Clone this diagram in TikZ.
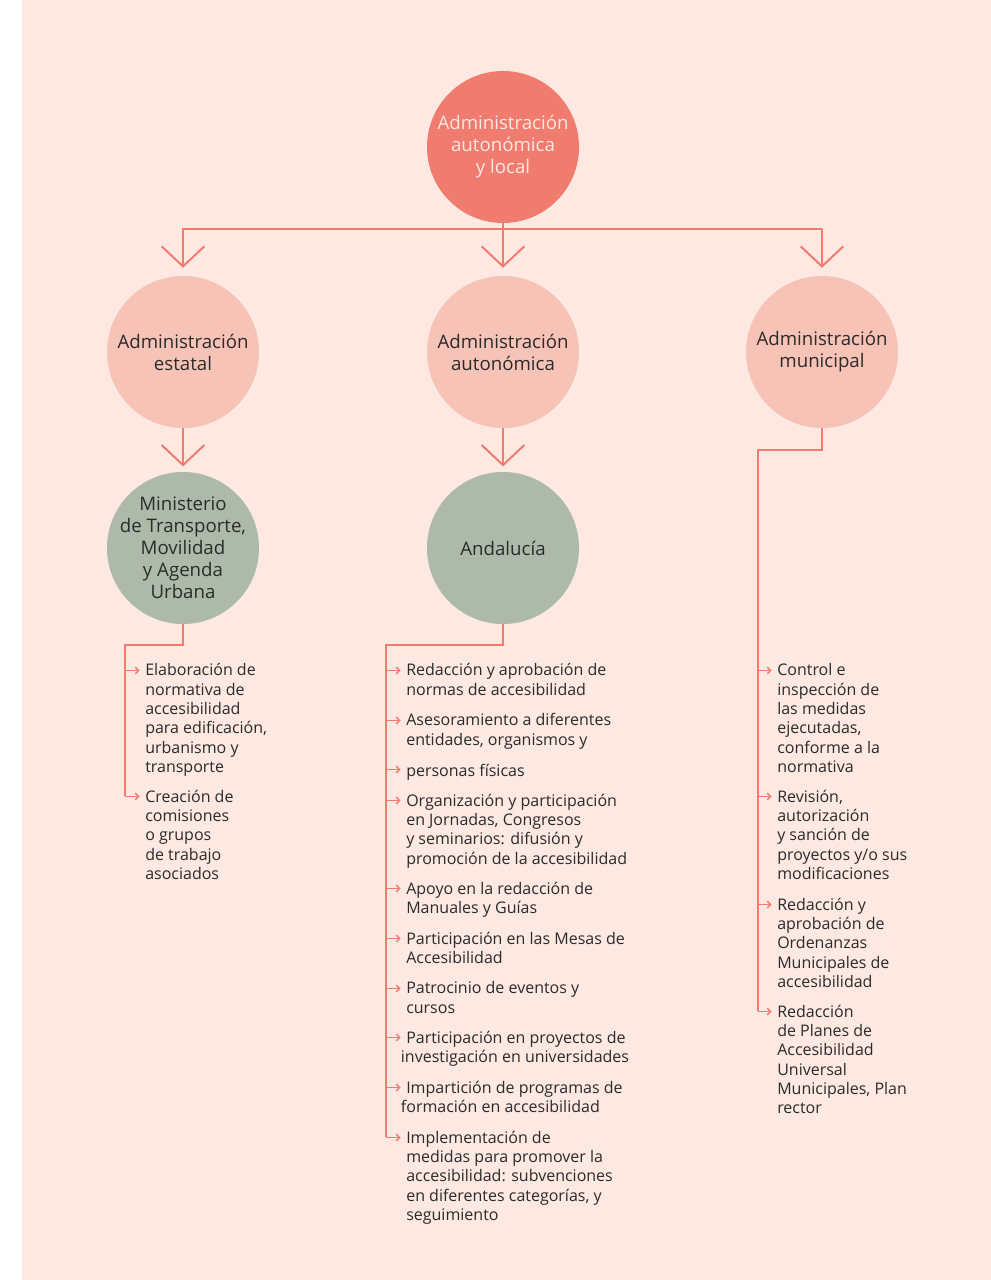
\documentclass[tikz,border=0pt]{standalone}
\usepackage{fontspec}
\setmainfont{Open Sans}
\usetikzlibrary{arrows.meta}

\definecolor{bgpink}{HTML}{FDE8E2}
\definecolor{coral}{HTML}{F07C70}
\definecolor{blush}{HTML}{F7C3B7}
\definecolor{sage}{HTML}{ADB9A9}
\definecolor{ink}{HTML}{2B2B2B}

\tikzset{
  circ/.style={circle,minimum size=114pt,inner sep=-12pt,align=center,text=ink,
    font=\fontsize{14}{16.5}\selectfont},
  topcirc/.style={circ,fill=coral,text=bgpink},
  admcirc/.style={circ,fill=blush},
  regcirc/.style={circ,fill=sage},
  bigarrow/.style={coral,line width=1.5pt,line join=round,
    -{Straight Barb[length=15pt,width=32pt]}},
  trunk/.style={coral,line width=1.5pt},
  leaf/.style={coral,line width=1.1pt,-{Straight Barb[length=2.5pt,width=5pt]}},
  item/.style={anchor=north west,yshift=7.9pt,inner sep=0pt,align=left,text=ink,
    font=\fontsize{12}{14.5}\selectfont,execute at begin node=\strut},
}

\begin{document}
\begin{tikzpicture}[x=0.75pt,y=-0.75pt]
   \useasboundingbox (0,0) rectangle (991,1280);
   \fill[white] (0,0) rectangle (991,1280);
   \fill[bgpink] (22,0) rectangle (991,1280);

   % circles
   \node[topcirc] (top) at (503,147) {Administración\\autonómica\\y local};
   \node[admcirc] (est) at (183,352) {Administración\\estatal};
   \node[admcirc] (aut) at (503,352) {Administración\\autonómica};
   \node[admcirc] (mun) at (822,352) {Administración\\municipal};
   \node[regcirc] (minis) at (183,548) {Ministerio\\de Transporte,\\Movilidad\\y Agenda\\Urbana};
   \node[regcirc] (anda) at (503,548) {Andalucía};

   % big arrows
   \coordinate (bus) at (503,229);
   \draw[bigarrow,shorten >=6pt] (top) -- (aut);
   \draw[bigarrow,shorten >=6pt] (bus) -| (est.north);
   \draw[bigarrow,shorten >=6pt] (bus) -| (mun.north);
   \draw[bigarrow,shorten >=4pt] (est) -- (minis);
   \draw[bigarrow,shorten >=4pt] (aut) -- (anda);

   % estatal list
   \foreach \n/\y/\t in {
     l1/674/{Elaboración de\\normativa de\\accesibilidad\\para edificación,\\urbanismo y\\transporte},
     l2/800/{Creación de\\comisiones\\o grupos\\de trabajo\\asociados}}
     \node[item] (\n) at (145,\y) {\t};

   % autonomica list
   \foreach \n/\y/\t in {
     m1/674/{Redacción y aprobación de\\normas de accesibilidad},
     m2/724/{Asesoramiento a diferentes\\entidades, organismos y},
     m3/773/{personas físicas},
     m4/804/{Organización y participación\\en Jornadas, Congresos\\y seminarios: difusión y\\promoción de la accesibilidad},
     m5/892/{Apoyo en la redacción de\\Manuales y Guías},
     m6/942/{Participación en las Mesas de\\Accesibilidad},
     m7/992/{Patrocinio de eventos y\\cursos},
     m8/1041/{Participación en proyectos de\\\hspace*{-4pt}investigación en universidades},
     m9/1091/{Impartición de programas de\\\hspace*{-4pt}formación en accesibilidad},
     m10/1141/{Implementación de\\medidas para promover la\\accesibilidad: subvenciones\\en diferentes categorías, y\\seguimiento}}
     \node[item] (\n) at (406,\y) {\t};

   % municipal list
   \foreach \n/\y/\t in {
     r1/674/{Control e\\inspección de\\las medidas\\ejecutadas,\\conforme a la\\normativa},
     r2/800/{Revisión,\\autorización\\y sanción de\\proyectos y/o sus\\modificaciones},
     r3/908/{Redacción y\\aprobación de\\Ordenanzas\\Municipales de\\accesibilidad},
     r4/1015/{Redacción\\de Planes de\\Accesibilidad\\Universal\\Municipales, Plan\\rector}}
     \node[item] (\n) at (777,\y) {\t};

   % trunks
   \coordinate (ltrunk) at (125,645);
   \coordinate (mtrunk) at (386,645);
   \coordinate (rtrunk) at (758,450);
   \draw[trunk] (minis.south) |- (ltrunk) -- ([yshift=-5.25pt]l2.north west -| ltrunk);
   \draw[trunk] (anda.south) |- (mtrunk) -- ([yshift=-5.25pt]m10.north west -| mtrunk);
   \draw[trunk] (mun.south) |- (rtrunk) -- ([yshift=-5.25pt]r4.north west -| rtrunk);

   \foreach \n in {l1,l2}
     \draw[leaf] ([yshift=-5.25pt]\n.north west -| ltrunk) -- ([xshift=-4pt,yshift=-5.25pt]\n.north west);
   \foreach \n in {m1,m2,m3,m4,m5,m6,m7,m8,m9,m10}
     \draw[leaf] ([yshift=-5.25pt]\n.north west -| mtrunk) -- ([xshift=-4pt,yshift=-5.25pt]\n.north west);
   \foreach \n in {r1,r2,r3,r4}
     \draw[leaf] ([yshift=-5.25pt]\n.north west -| rtrunk) -- ([xshift=-4pt,yshift=-5.25pt]\n.north west);
\end{tikzpicture}
\end{document}
